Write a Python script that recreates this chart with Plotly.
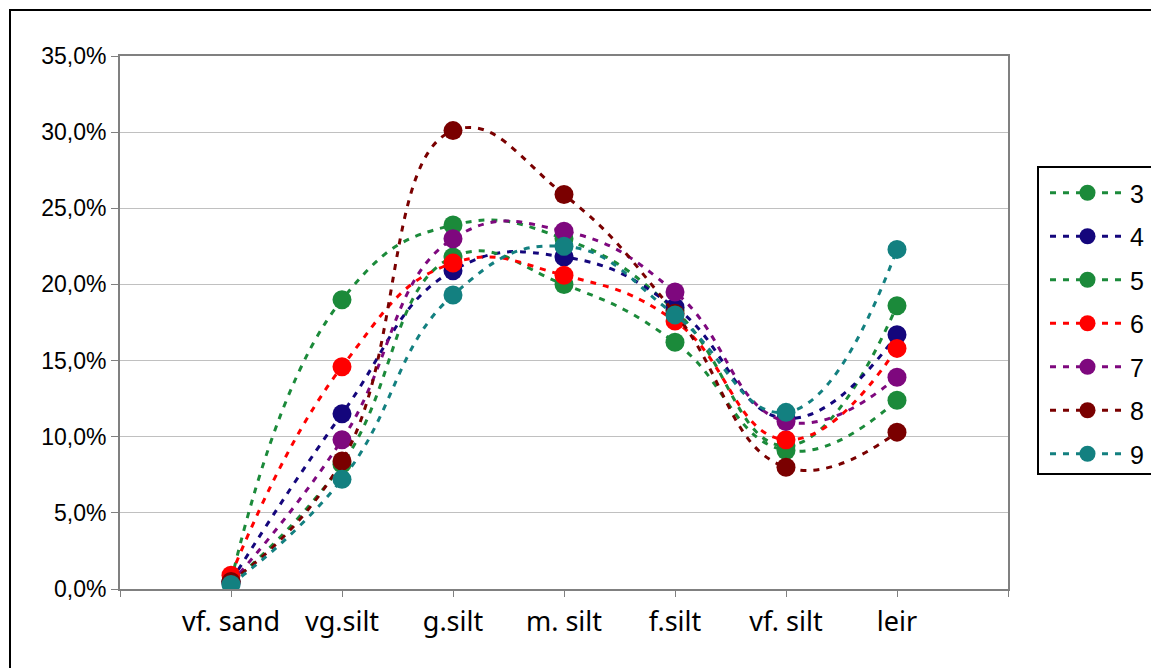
import plotly.graph_objects as go

# Grain-size fractions (share of sample, in percent)
categories = ["vf. sand", "vg.silt", "g.silt", "m. silt", "f.silt", "vf. silt", "leir"]

s3 = [0.5, 19.0, 23.9, 23.0, 18.3, 9.4, 18.6]
s4 = [0.5, 11.5, 20.9, 21.8, 18.5, 11.2, 16.7]
s5 = [0.4, 8.2, 21.8, 20.0, 16.2, 9.1, 12.4]
s6 = [0.9, 14.6, 21.4, 20.6, 17.6, 9.8, 15.8]
s7 = [0.4, 9.8, 23.0, 23.5, 19.5, 11.0, 13.9]
s8 = [0.5, 8.4, 30.1, 25.9, 18.1, 8.0, 10.3]
s9 = [0.3, 7.2, 19.3, 22.5, 18.0, 11.6, 22.3]

series_names = ["3", "4", "5", "6", "7", "8", "9"]
series_values = [s3, s4, s5, s6, s7, s8, s9]
series_colors = ["#1b8a3a", "#14067c", "#1b8a3a", "#ff0000", "#7e087e", "#7a0000", "#138080"]

y_ticks = [0, 0.05, 0.10, 0.15, 0.20, 0.25, 0.30, 0.35]

x_pos = list(range(len(categories)))

fig = go.Figure()
for name, vals, col in zip(series_names, series_values, series_colors):
    fig.add_trace(go.Scatter(
        x=x_pos,
        y=[v / 100 for v in vals],
        name=name,
        legendgroup=name,
        mode="lines+markers",
        line=dict(color=col, width=3, dash="6px,7px", shape="spline", smoothing=1.3),
        marker=dict(color=col, size=19),
    ))

# pixel -> paper helpers for the plot area (x: 120..1008, y: 589..56)
def px_x(p):
    return (p - 120) / 888

def px_y(p):
    return (589 - p) / 533

# chart frame
fig.add_shape(type="rect", xref="paper", yref="paper",
              x0=px_x(10), x1=px_x(1170), y0=px_y(10), y1=px_y(700),
              line=dict(color="#000000", width=2), layer="below")
# legend frame
fig.add_shape(type="rect", xref="paper", yref="paper",
              x0=px_x(1038), x1=px_x(1165), y0=px_y(167), y1=px_y(474),
              line=dict(color="#000000", width=2), fillcolor="white", layer="below")

fig.update_layout(
    width=1151, height=668,
    margin=dict(l=120, r=143, t=56, b=79, autoexpand=False),
    paper_bgcolor="white", plot_bgcolor="white",
    separators=",.",
    showlegend=True,
    legend=dict(
        x=px_x(1045), y=px_y(170), xanchor="left", yanchor="top",
        borderwidth=0, bgcolor="rgba(0,0,0,0)",
        font=dict(family="Liberation Sans, Arial", size=25, color="#000000"),
        itemwidth=75, tracegroupgap=8,
    ),
    xaxis=dict(
        range=[-1, 7],
        tickmode="array",
        tickvals=list(range(-1, 8)),
        ticktext=[""] + categories + [""],
        ticks="outside", ticklen=6, tickcolor="#808080", tickwidth=1,
        ticklabelstandoff=2,
        showline=True, linecolor="#808080", linewidth=2, mirror=True,
        showgrid=False, zeroline=False,
        tickfont=dict(family="Noto Sans, Open Sans", size=27, color="#000000"),
    ),
    yaxis=dict(
        range=[0, 0.35],
        tickmode="array", tickvals=y_ticks, tickformat=".1%",
        ticks="outside", ticklen=7, tickcolor="#808080", tickwidth=1,
        showline=True, linecolor="#808080", linewidth=2, mirror=True,
        showgrid=True, gridcolor="#c0c0c0", gridwidth=1, zeroline=False,
        tickfont=dict(family="Liberation Sans, Arial", size=23, color="#000000"),
    ),
)

fig.write_html("out.html")
